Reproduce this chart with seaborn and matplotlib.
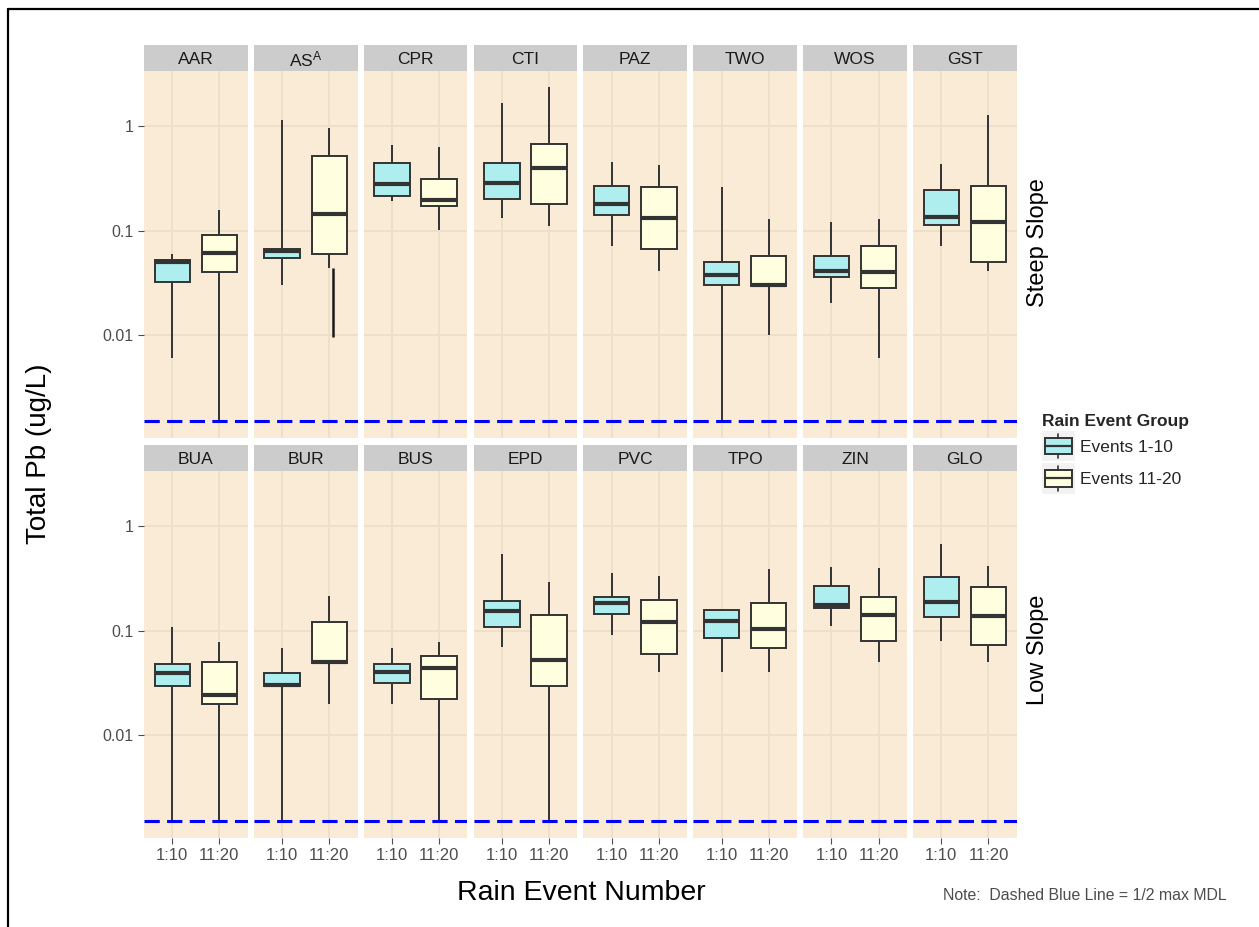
import numpy as np
import pandas as pd
import matplotlib
matplotlib.use("Agg")
import matplotlib.pyplot as plt
import seaborn as sns
from matplotlib.patches import Patch, Rectangle
from matplotlib.lines import Line2D
from matplotlib.legend_handler import HandlerBase

sns.set_theme(style="white")
plt.rcParams['font.family'] = ['Liberation Sans', 'DejaVu Sans']
plt.rcParams['mathtext.fontset'] = 'custom'
plt.rcParams['mathtext.rm'] = 'Liberation Sans'
plt.rcParams['mathtext.it'] = 'Liberation Sans:italic'
plt.rcParams['mathtext.bf'] = 'Liberation Sans:bold'

# ---------------- data ----------------
ROW_LABELS = ["Steep Slope", "Low Slope"]
STEEP_SITES = ["AAR", "AS", "CPR", "CTI", "PAZ", "TWO", "WOS", "GST"]
STEEP_STRIPS = ["AAR", r"AS$^{\mathrm{A}}$", "CPR", "CTI", "PAZ", "TWO", "WOS", "GST"]
LOW_SITES = ["BUA", "BUR", "BUS", "EPD", "PVC", "TPO", "ZIN", "GLO"]
LOW_STRIPS = ["BUA", "BUR", "BUS", "EPD", "PVC", "TPO", "ZIN", "GLO"]

GROUPS = ["1:10", "11:20"]
LEGEND_LABELS = ["Events 1-10", "Events 11-20"]

# five-number summaries per site: min, q1, median, q3, max  (ug/L)
STEEP_E1 = [
    [0.0061, 0.0324, 0.0500, 0.0520, 0.0596],   # AAR
    [0.0303, 0.0546, 0.0637, 0.0665, 1.15],     # AS
    [0.193, 0.216, 0.279, 0.446, 0.662],        # CPR
    [0.132, 0.203, 0.283, 0.440, 1.65],         # CTI
    [0.0706, 0.140, 0.179, 0.267, 0.459],       # PAZ
    [0.0015, 0.0303, 0.0378, 0.0503, 0.259],    # TWO
    [0.0202, 0.0364, 0.0407, 0.0574, 0.120],    # WOS
    [0.0706, 0.114, 0.136, 0.244, 0.433],       # GST
]
STEEP_E2 = [
    [0.0015, 0.0403, 0.0610, 0.0905, 0.158],    # AAR
    [0.0438, 0.0596, 0.143, 0.516, 0.97],       # AS
    [0.101, 0.174, 0.197, 0.311, 0.638],        # CPR
    [0.111, 0.179, 0.399, 0.678, 2.35],         # CTI
    [0.0407, 0.0665, 0.132, 0.259, 0.426],      # PAZ
    [0.0101, 0.0296, 0.0303, 0.0574, 0.129],    # TWO
    [0.0061, 0.0284, 0.0403, 0.0711, 0.129],    # WOS
    [0.0407, 0.0507, 0.121, 0.268, 1.28],       # GST
]
LOW_E1 = [
    [0.0015, 0.0296, 0.0398, 0.0475, 0.109],    # BUA
    [0.0015, 0.0295, 0.0301, 0.0398, 0.069],    # BUR
    [0.0201, 0.0319, 0.0403, 0.0475, 0.069],    # BUS
    [0.070, 0.108, 0.155, 0.191, 0.536],        # EPD
    [0.0905, 0.145, 0.183, 0.212, 0.360],       # PVC
    [0.0403, 0.086, 0.125, 0.157, 0.157],       # TPO
    [0.110, 0.164, 0.178, 0.265, 0.405],        # ZIN
    [0.0805, 0.135, 0.187, 0.323, 0.668],       # GLO
]
LOW_E2 = [
    [0.0015, 0.0198, 0.0245, 0.0503, 0.0788],   # BUA
    [0.0201, 0.0492, 0.0500, 0.121, 0.217],     # BUR
    [0.0015, 0.0221, 0.0444, 0.0570, 0.0788],   # BUS
    [0.0015, 0.0296, 0.0530, 0.142, 0.295],     # EPD
    [0.0403, 0.0596, 0.120, 0.195, 0.335],      # PVC
    [0.0403, 0.068, 0.103, 0.186, 0.385],       # TPO
    [0.0503, 0.080, 0.142, 0.208, 0.394],       # ZIN
    [0.0503, 0.0722, 0.137, 0.259, 0.417],      # GLO
]
# extra low segment drawn beside the AS 11:20 whisker
EXTRA_SEG_SITE = "AS"
EXTRA_SEG_GROUP = "11:20"
EXTRA_SEG_RANGE = [0.0096, 0.0435]

Y_TICKS = [0.01, 0.1, 1]
Y_TICK_LABELS = ["0.01", "0.1", "1"]
MDL_HALF = 0.0015   # 1/2 max MDL

# ---------------- styles ----------------
PALETTE = {"1:10": "#AFEEEE", "11:20": "#FFFFE0"}
PANEL_BG = "#FAEBD7"
GRID_C = "#EEDFCB"
STRIP_BG = "#CCCCCC"
EDGE = "#333333"
TICK_C = "#4D4D4D"

# ---------------- frame ----------------
rows = []
for r, (sites, e1, e2) in enumerate([(STEEP_SITES, STEEP_E1, STEEP_E2),
                                     (LOW_SITES, LOW_E1, LOW_E2)]):
    for site, a, b in zip(sites, e1, e2):
        for g, vals in zip(GROUPS, (a, b)):
            for v in vals:
                rows.append({"row": r, "site": site, "group": g, "value": v})
df = pd.DataFrame(rows)

lmin = np.log10(df["value"].min())
lmax = np.log10(df["value"].max())
span = lmax - lmin
YLIM = (10 ** (lmin - 0.05 * span), 10 ** (lmax + 0.05 * span))

W, H = 1259, 927
fig = plt.figure(figsize=(W / 100, H / 100), dpi=100)
fig.patch.set_facecolor("white")


def px_axes(left, top, width, height):
    return fig.add_axes([left / W, 1 - (top + height) / H, width / W, height / H])


COL_LEFT0, COL_PITCH, COL_W = 144.0, 109.86, 103.7
STRIP_TOP0, STRIP_H, PANEL_H, ROW_PITCH = 45.0, 25.7, 367.3, 400.0
ROW_LABEL_Y = [243, 650]

for r, (sites, strips) in enumerate([(STEEP_SITES, STEEP_STRIPS), (LOW_SITES, LOW_STRIPS)]):
    strip_top = STRIP_TOP0 + r * ROW_PITCH
    panel_top = strip_top + STRIP_H
    for c, (site, strip) in enumerate(zip(sites, strips)):
        left = COL_LEFT0 + c * COL_PITCH
        ax = px_axes(left, panel_top, COL_W, PANEL_H)
        ax.set_facecolor(PANEL_BG)
        sub = df[(df["row"] == r) & (df["site"] == site)]
        sns.boxplot(data=sub, x="group", y="value", hue="group",
                    order=GROUPS, hue_order=GROUPS, palette=PALETTE,
                    saturation=1, width=0.75, whis=np.inf,
                    linewidth=1.4, linecolor=EDGE,
                    medianprops=dict(linewidth=3.0, color=EDGE),
                    showcaps=False, log_scale=True, legend=False, ax=ax)
        if site == EXTRA_SEG_SITE:
            xi = GROUPS.index(EXTRA_SEG_GROUP) + 0.07
            ax.vlines(xi, EXTRA_SEG_RANGE[0], EXTRA_SEG_RANGE[1],
                      color="#1A1A1A", lw=1.8, zorder=3)
        ax.axhline(MDL_HALF, color="#0000FF", lw=2.2, dashes=(5, 2.4), zorder=4)
        ax.set_xlim(-0.6, 1.6)
        ax.set_ylim(*YLIM)
        ax.set_yticks(Y_TICKS)
        ax.minorticks_off()
        ax.set_xlabel("")
        ax.set_ylabel("")
        for s in ax.spines.values():
            s.set_visible(False)
        ax.grid(True, which="major", axis="both", color=GRID_C, lw=1.4)
        ax.set_axisbelow(True)
        ax.tick_params(axis="both", which="major", length=4.5, width=0.8,
                       color=TICK_C, labelcolor=TICK_C, labelsize=12, pad=3)
        if c == 0:
            ax.set_yticklabels(Y_TICK_LABELS)
            ax.tick_params(axis="y", left=True, labelleft=True, labelsize=11.5)
        else:
            ax.tick_params(axis="y", left=False, labelleft=False)
        ax.set_xticks(range(len(GROUPS)))
        if r == 1:
            ax.set_xticklabels(GROUPS)
            ax.tick_params(axis="x", bottom=True, labelbottom=True)
        else:
            ax.tick_params(axis="x", bottom=False, labelbottom=False)

        sax = px_axes(left, strip_top, COL_W, STRIP_H)
        sax.set_facecolor(STRIP_BG)
        sax.set_xticks([])
        sax.set_yticks([])
        for s in sax.spines.values():
            s.set_visible(False)
        sax.text(0.5, 0.45, strip, ha="center", va="center", fontsize=12.5,
                 color="#1A1A1A", transform=sax.transAxes)

    fig.text(1038 / W, 1 - ROW_LABEL_Y[r] / H, ROW_LABELS[r],
             rotation=90, ha="center", va="center", fontsize=17, color="black")

fig.text(581 / W, 1 - 893 / H, "Rain Event Number", ha="center", va="center",
         fontsize=20.5, color="black")
fig.text(39 / W, 1 - 454 / H, "Total Pb (ug/L)", ha="center", va="center",
         rotation=90, fontsize=20, color="black")
fig.text(1227 / W, 1 - 895 / H, "Note:  Dashed Blue Line = 1/2 max MDL",
         ha="right", va="center", fontsize=11.4, color="#4D4D4D")


# ---------------- legend ----------------
class BoxHandler(HandlerBase):
    def create_artists(self, legend, orig_handle, xdescent, ydescent,
                       width, height, fontsize, trans):
        fc = orig_handle.get_facecolor()
        x0, y0 = -xdescent, -ydescent
        bg = Rectangle((x0, y0), width, height, fc="#F2F2F2", ec="none",
                       transform=trans)
        bx = Rectangle((x0 + width * 0.1, y0 + height * 0.23), width * 0.8,
                       height * 0.55, fc=fc, ec=EDGE, lw=1.4, transform=trans)
        cx = x0 + width / 2
        med = Line2D([x0 + width * 0.1, x0 + width * 0.9],
                     [y0 + height / 2] * 2, color=EDGE, lw=1.6, transform=trans)
        w1 = Line2D([cx, cx], [y0 + height * 0.1, y0 + height * 0.23],
                    color=EDGE, lw=1.2, transform=trans)
        w2 = Line2D([cx, cx], [y0 + height * 0.78, y0 + height * 0.91],
                    color=EDGE, lw=1.2, transform=trans)
        return [bg, bx, med, w1, w2]


handles = [Patch(facecolor=PALETTE[g]) for g in GROUPS]
leg = fig.legend(handles=handles, labels=LEGEND_LABELS,
                 handler_map={Patch: BoxHandler()},
                 title="Rain Event Group", loc="upper left",
                 bbox_to_anchor=(1042 / W, 1 - 414 / H),
                 frameon=False, fontsize=12.5, title_fontsize=12.5,
                 handlelength=1.9, handleheight=2.3, labelspacing=0.12,
                 handletextpad=0.3, borderpad=0, borderaxespad=0,
                 alignment="left")
leg.get_title().set_fontweight("bold")

# figure frame (left and top edges)
fig.add_artist(Line2D([8 / W, 8 / W], [0, 1 - 9 / H], transform=fig.transFigure,
                      color="black", lw=1.6))
fig.add_artist(Line2D([8 / W, 1], [1 - 9 / H, 1 - 9 / H], transform=fig.transFigure,
                      color="black", lw=1.6))

fig.savefig("out.png", dpi=100)
